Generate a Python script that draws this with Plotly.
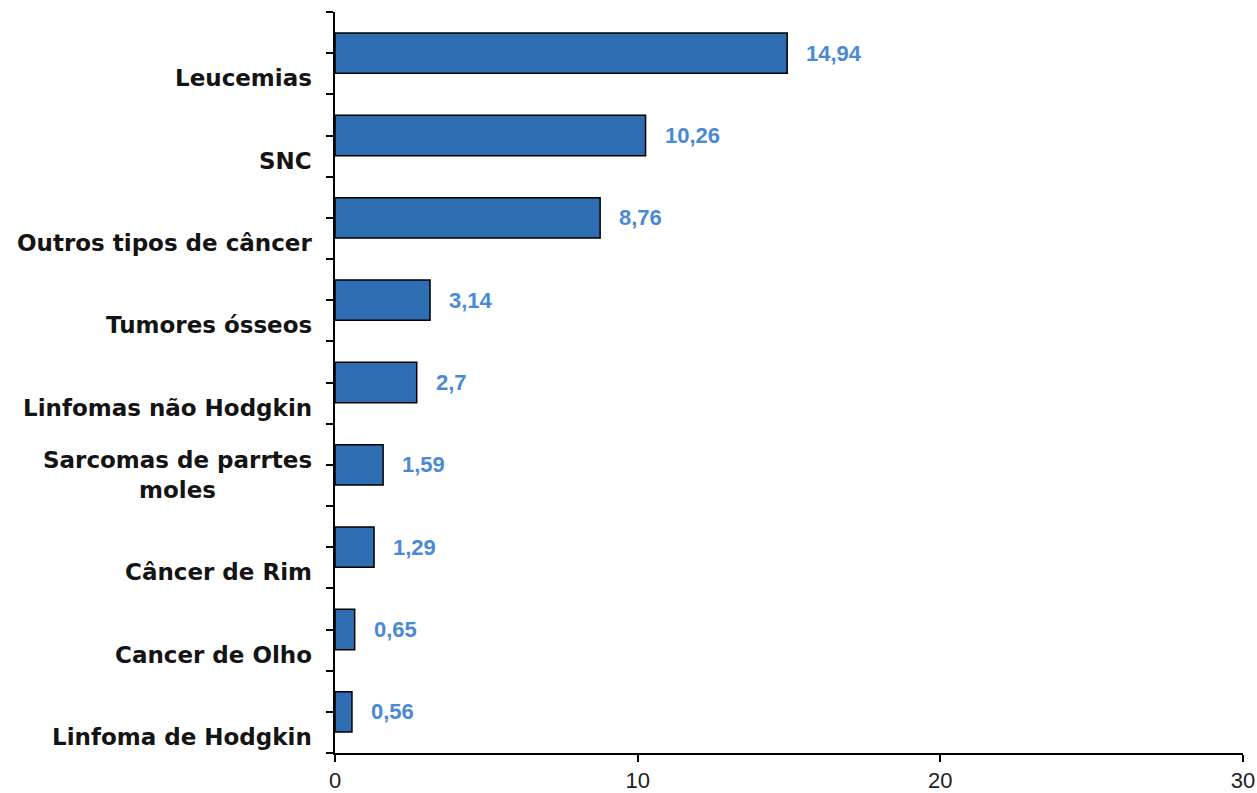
import plotly.graph_objects as go

# categories listed top to bottom as in the source chart
categories = [
    'Leucemias',
    'SNC',
    'Outros tipos de câncer',
    'Tumores ósseos',
    'Linfomas não Hodgkin',
    'Sarcomas de parrtes<br>moles',
    'Câncer de Rim',
    'Cancer de Olho',
    'Linfoma de Hodgkin',
]
values = [14.94, 10.26, 8.76, 3.14, 2.7, 1.59, 1.29, 0.65, 0.56]
x_ticks = [0, 10, 20, 30]

bar_color = '#2f6db3'
value_color = '#4a8ad4'
text_color = '#141414'

n = len(categories)
ypos = [n - 1 - i for i in range(n)]

fig = go.Figure()
fig.add_trace(go.Bar(
    x=values, y=ypos, orientation='h', width=0.49,
    marker=dict(color=bar_color, line=dict(color='black', width=1.5)),
    hoverinfo='skip', showlegend=False,
))

annotations = []
for cat, v, y in zip(categories, values, ypos):
    # category label sits just above the lower slot boundary, like the Excel original
    annotations.append(dict(
        text=cat, xref='paper', x=0, y=y - 0.5, yref='y',
        xanchor='right', yanchor='bottom', align='center',
        xshift=-21, yshift=1, showarrow=False,
        font=dict(family='DejaVu Sans', size=23, color=text_color, weight='bold'),
    ))
    annotations.append(dict(
        text=f'{v:g}'.replace('.', ','), x=v, y=y, xref='x', yref='y',
        xanchor='left', yanchor='middle', xshift=17, showarrow=False,
        font=dict(family='Liberation Sans', size=22, color=value_color, weight='bold'),
    ))

fig.update_layout(
    width=1257, height=793,
    margin=dict(l=335, r=14, t=12, b=40),
    plot_bgcolor='white', paper_bgcolor='white',
    annotations=annotations,
    xaxis=dict(
        range=[0, 30], tickvals=x_ticks, ticks='outside', ticklen=7,
        tickcolor='black', tickwidth=1.5, showline=True, linecolor='black',
        linewidth=1.5, showgrid=False, zeroline=False, automargin=False,
        tickfont=dict(family='Liberation Sans', size=22, color='#222222'),
    ),
    yaxis=dict(
        range=[-0.5, n - 0.5], tickvals=[k * 0.5 - 0.5 for k in range(2 * n + 1)],
        showticklabels=False, ticks='outside', ticklen=7, tickcolor='black',
        tickwidth=1.5, showline=True, linecolor='black', linewidth=1.5,
        showgrid=False, zeroline=False, automargin=False,
    ),
)

# drop the default body margin so the figure fills the window exactly
fig.write_html('out.html', config={'displayModeBar': False},
               post_script="document.body.style.margin='0';")
